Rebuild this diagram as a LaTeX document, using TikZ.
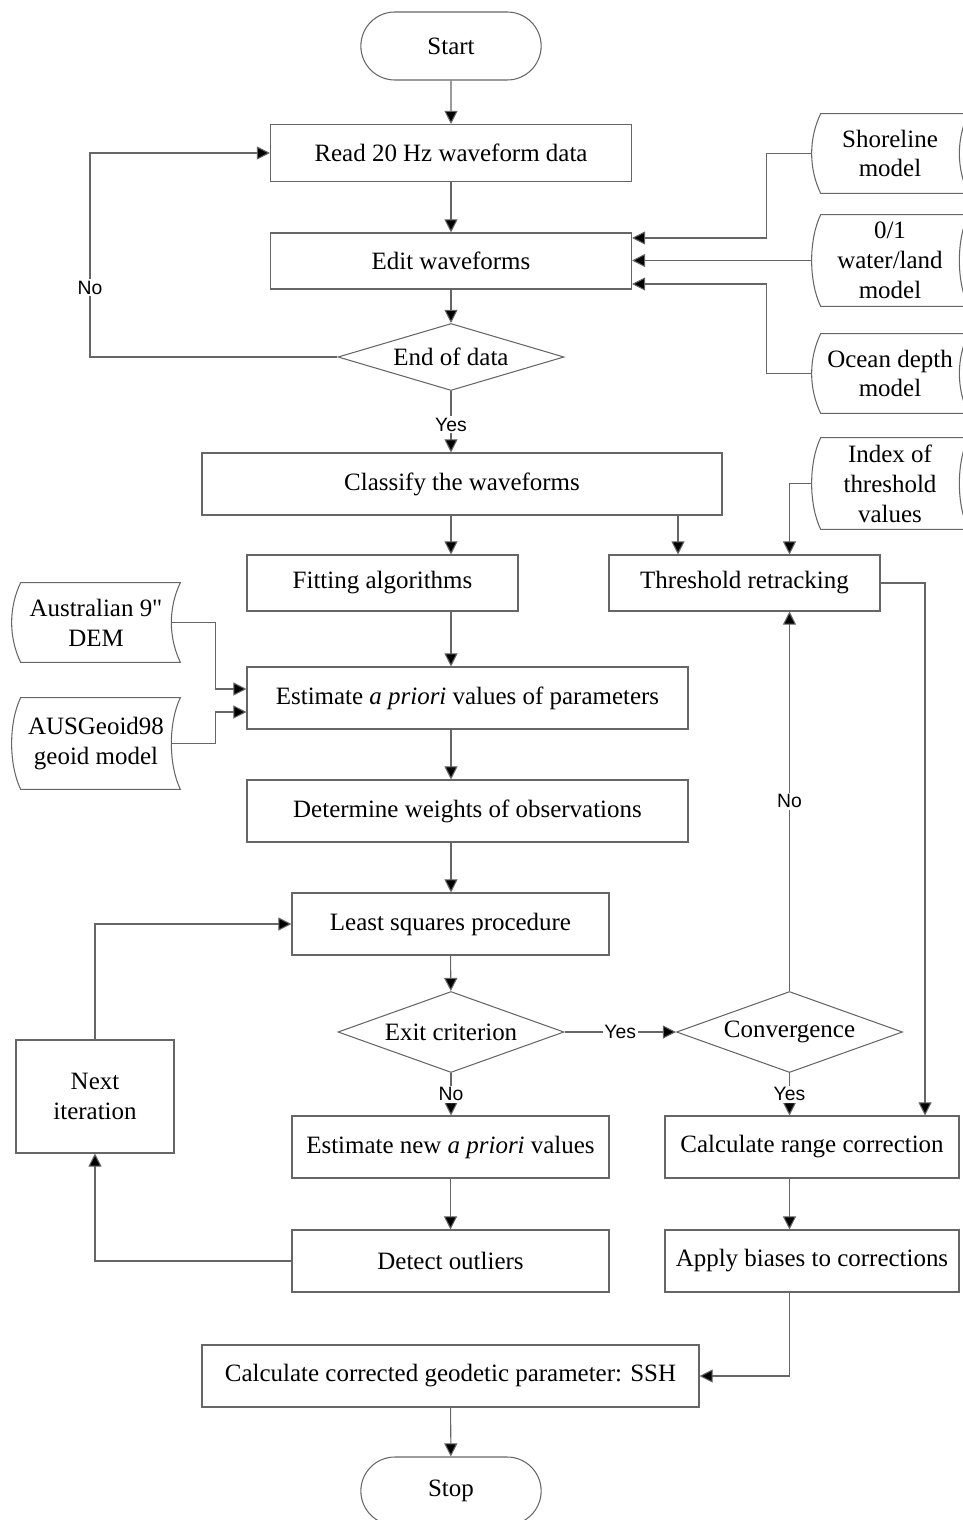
\documentclass[tikz,border=0pt]{standalone}
\usepackage{fontspec}
\setmainfont{Liberation Serif}
\setsansfont{Liberation Sans}
\usetikzlibrary{shapes.geometric,shapes.misc,arrows.meta}
\definecolor{linec}{gray}{0.4}
\tikzset{
    line/.style={draw=linec, line width=0.6pt},
    arrow/.style={line, -{Triangle[length=7.5pt,width=7.5pt,fill=black]}},
    txt/.style={font=\fontsize{14.2}{17}\selectfont, align=center},
    box/.style={line, txt, rectangle, inner sep=0pt, minimum height=1.24cm},
    term/.style={line, txt, rounded rectangle, minimum width=3.84cm, minimum height=1.36cm},
    decision/.style={line, txt, diamond, inner sep=0pt, minimum width=4.52cm},
    store/.style={txt, inner sep=0pt},
    lbl/.style={fill=white, inner sep=1pt, font=\sffamily\fontsize{11}{13}\selectfont},
}
\begin{document}
\begin{tikzpicture}
    \useasboundingbox (0,0) rectangle (19.26,-30.4);
    \node[term] (start) at (9.02,-0.92) {Start};
    \node[box, minimum width=7.22cm, minimum height=1.14cm] (read) at (9.02,-3.06) {Read 20 Hz waveform data};
    \node[box, minimum width=7.22cm, minimum height=1.12cm] (edit) at (9.02,-5.22) {Edit waveforms};
    \node[decision, aspect=3.37, minimum height=1.34cm] (enddata) at (9.02,-7.14) {End of data};
    \node[box, minimum width=10.4cm] (classify) at (9.24,-9.68) {Classify the waveforms};
    \node[box, minimum width=5.42cm, minimum height=1.12cm] (fitting) at (7.65,-11.66) {Fitting algorithms};
    \node[box, minimum width=5.42cm, minimum height=1.12cm] (thr) at (14.89,-11.66) {Threshold retracking};
    \node[box, minimum width=8.82cm] (apriori) at (9.35,-13.96) {Estimate \emph{a priori} values of parameters};
    \node[box, minimum width=8.82cm] (weights) at (9.35,-16.22) {Determine weights of observations};
    \node[box, minimum width=6.34cm] (lsq) at (9.01,-18.48) {Least squares procedure};
    \node[decision, aspect=2.8, minimum height=1.62cm] (exit) at (9.02,-20.64) {Exit criterion};
    \node[decision, aspect=2.8, minimum height=1.62cm] (conv) at (15.79,-20.64) {Convergence};
    \node[box, minimum width=6.34cm] (estnew) at (9.01,-22.94) {Estimate new \emph{a priori} values};
    \node[box, minimum width=5.88cm] (range) at (16.24,-22.94) {Calculate range correction};
    \node[box, minimum width=6.34cm] (outliers) at (9.01,-25.22) {Detect outliers};
    \node[box, minimum width=5.88cm] (biases) at (16.24,-25.22) {Apply biases to corrections};
    \node[box, minimum width=3.16cm, minimum height=2.26cm] (next) at (1.9,-21.93) {Next\\iteration};
    \node[box, minimum width=9.94cm] (ssh) at (9.01,-27.52) {Calculate corrected geodetic parameter: SSH};
    \node[term] (stop) at (9.02,-29.82) {Stop};

    \node[store, minimum width=3.12cm, minimum height=1.58cm] (shore) at (17.8,-3.07) {Shoreline\\model};
    \node[store, minimum width=3.12cm, minimum height=1.82cm] (mask) at (17.8,-5.21) {0/1\\water/land\\model};
    \node[store, minimum width=3.12cm, minimum height=1.58cm] (depth) at (17.8,-7.47) {Ocean depth\\model};
    \node[store, minimum width=3.12cm, minimum height=1.82cm] (idx) at (17.8,-9.67) {Index of\\threshold\\values};
    \node[store, minimum width=3.36cm, minimum height=1.58cm] (dem) at (1.92,-12.45) {Australian 9\textquotedbl\\DEM};
    \node[store, minimum width=3.36cm, minimum height=1.82cm] (geoid) at (1.92,-14.87) {AUSGeoid98\\geoid model};
    \foreach \n in {shore,mask,depth,idx,dem,geoid}
        \draw[line] ([xshift=1.8mm]\n.north west) -- (\n.north east)
            .. controls +(-0.24,-0.5) and +(-0.24,0.5) .. (\n.south east)
            -- ([xshift=1.8mm]\n.south west)
            .. controls +(-0.24,0.5) and +(-0.24,-0.5) .. cycle;

    \draw[arrow] (start) -- (read);
    \draw[arrow] (read) -- (edit);
    \draw[arrow] (edit) -- (enddata);
    \draw[arrow] (enddata.south) -- node[lbl, pos=0.55] {Yes} (enddata.south |- classify.north);
    \coordinate (noback) at (1.8,-7.14);
    \draw[arrow] (enddata.west) -- (noback) |- node[lbl, pos=0.17] {No} (read.west);
    \draw[arrow] (shore.west) -- ++(-0.9,0) |- ([yshift=0.46cm]edit.east);
    \draw[arrow] (mask.west) -- (mask.west -| edit.east);
    \draw[arrow] (depth.west) -- ++(-0.9,0) |- ([yshift=-0.46cm]edit.east);
    \draw[arrow] (classify.south -| start) -- (fitting.north -| start);
    \draw[arrow] ([xshift=4.32cm]classify.south) -- ([xshift=4.32cm]classify.south |- thr.north);
    \draw[arrow] (idx.west) -| (conv |- thr.north);
    \draw[arrow] (fitting.south -| start) -- (apriori.north -| start);
    \draw[arrow] ([xshift=-1.8mm]dem.east) -- ++(0.88,0) |- ([yshift=0.18cm]apriori.west);
    \draw[arrow] ([xshift=-1.8mm]geoid.east) -- ++(0.88,0) |- ([yshift=-0.28cm]apriori.west);
    \draw[arrow] (apriori.south -| start) -- (weights.north -| start);
    \draw[arrow] (weights.south -| start) -- (lsq.north -| start);
    \draw[arrow] (lsq) -- (exit);
    \draw[arrow] (exit.east) -- node[lbl] {Yes} (conv.west);
    \draw[arrow] (exit.south) -- node[lbl] {No} (exit.south |- estnew.north);
    \draw[arrow] (conv.south) -- node[lbl] {Yes} (conv.south |- range.north);
    \draw[arrow] (conv.north) -- node[lbl] {No} (conv.north |- thr.south);
    \draw[arrow] (thr.east) -| ([xshift=2.26cm]range.north);
    \draw[arrow] (estnew) -- (outliers);
    \draw[arrow] (range.south -| conv) -- (biases.north -| conv);
    \draw[arrow] (biases.south -| conv) |- (ssh.east);
    \draw[arrow] (outliers.west) -| (next.south);
    \draw[arrow] (next.north) |- (lsq.west);
    \draw[arrow] (ssh) -- (stop);
\end{tikzpicture}
\end{document}
